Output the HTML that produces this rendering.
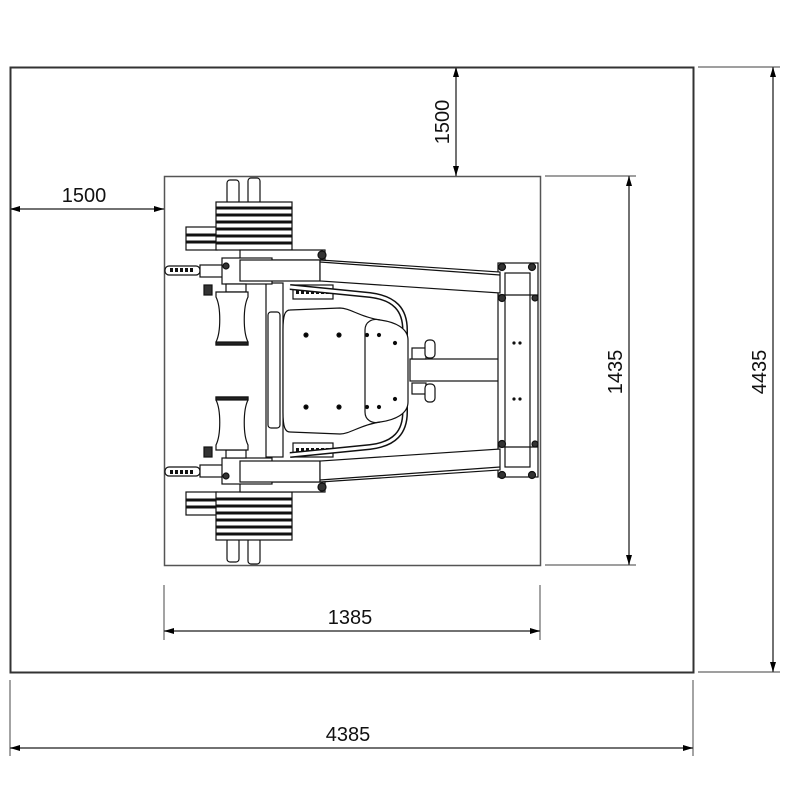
<!DOCTYPE html>
<html><head><style>
html,body{margin:0;padding:0;background:#fff;width:800px;height:798px;overflow:hidden}
svg{display:block}
text{font-family:"Liberation Sans Narrow","Liberation Sans",sans-serif;font-size:20px;fill:#111}
</style></head><body>
<svg width="800" height="798" viewBox="0 0 800 798" xmlns="http://www.w3.org/2000/svg">
<defs>
<marker id="a" viewBox="0 0 10 6" refX="10" refY="3" markerWidth="10" markerHeight="6" markerUnits="userSpaceOnUse" orient="auto-start-reverse"><path d="M0,0 L10,3 L0,6 z" fill="#000"/></marker>
</defs>
<g fill="none" stroke="#333">
<rect x="10.5" y="67.5" width="683" height="605" stroke-width="2"/>
<rect x="164.5" y="176.5" width="376" height="389" stroke="#555" stroke-width="1.5"/>
</g>
<g stroke="#666" stroke-width="1.2">
<line x1="164" y1="585" x2="164" y2="640"/><line x1="540" y1="585" x2="540" y2="640"/>
<line x1="10" y1="680" x2="10" y2="756"/><line x1="693" y1="680" x2="693" y2="756"/>
<line x1="545" y1="176" x2="636" y2="176"/><line x1="545" y1="565" x2="636" y2="565"/>
<line x1="698" y1="67" x2="780" y2="67"/><line x1="698" y1="672" x2="780" y2="672"/>
</g>
<g stroke="#444" stroke-width="1.5" marker-start="url(#a)" marker-end="url(#a)">
<line x1="164" y1="631" x2="540" y2="631"/>
<line x1="10" y1="748" x2="693" y2="748"/>
<line x1="629" y1="176" x2="629" y2="565"/>
<line x1="773" y1="67" x2="773" y2="672"/>
<line x1="10" y1="209" x2="164" y2="209"/>
<line x1="456" y1="67" x2="456" y2="176"/>
</g>
<text x="350" y="624" text-anchor="middle">1385</text>
<text x="348" y="741" text-anchor="middle">4385</text>
<text x="84" y="202" text-anchor="middle">1500</text>
<text transform="translate(449,122) rotate(-90)" text-anchor="middle">1500</text>
<text transform="translate(622,372) rotate(-90)" text-anchor="middle">1435</text>
<text transform="translate(766,372) rotate(-90)" text-anchor="middle">4435</text>

<g fill="#fff" stroke="#111" stroke-width="1.2">
<rect x="410" y="359" width="90" height="22"/>
<rect x="498" y="263" width="40" height="214"/>
<rect x="505" y="273" width="25" height="194"/>
<rect x="266" y="283" width="17" height="174"/>
<rect x="268" y="312" width="12" height="116" rx="3"/>
</g>
<g id="half" fill="#fff" stroke="#111" stroke-width="1.2">
<rect x="227" y="180" width="12" height="24" rx="3"/><rect x="248" y="178" width="12" height="26" rx="3"/>
<rect x="186" y="227" width="31" height="23"/>
<line x1="186" y1="235" x2="217" y2="235" stroke-width="3"/><line x1="186" y1="242" x2="217" y2="242" stroke-width="3"/>
<rect x="216" y="202" width="76" height="48"/>
<g stroke-width="3"><line x1="216" y1="208" x2="292" y2="208"/><line x1="216" y1="215" x2="292" y2="215"/><line x1="216" y1="222" x2="292" y2="222"/><line x1="216" y1="229" x2="292" y2="229"/><line x1="216" y1="236" x2="292" y2="236"/><line x1="216" y1="243" x2="292" y2="243"/></g>
<rect x="240" y="250" width="85" height="10"/>
<rect x="165" y="266" width="35" height="9" rx="4"/>
<line x1="170" y1="270" x2="195" y2="270" stroke-width="4" stroke-dasharray="3,2"/>
<rect x="200" y="265" width="30" height="12"/>
<rect x="222" y="258" width="50" height="26"/>
<rect x="240" y="260" width="80" height="21"/>
<path d="M320,260 L500,272 L500,293 L320,281 Z"/>
<line x1="320" y1="262" x2="500" y2="275"/>
<circle cx="322" cy="255" r="4" fill="#333"/><circle cx="226" cy="266" r="3" fill="#333"/>
<rect x="204" y="285" width="8" height="10" fill="#333"/>
<rect x="226" y="284" width="20" height="8"/>
<path d="M216,292 h32 v5 c-5,10 -5,35 0,45 v3 h-32 v-3 c5,-10 5,-35 0,-45 z"/>
<rect x="216" y="342" width="32" height="3" fill="#222"/>
<rect x="293" y="285" width="40" height="14"/>
<line x1="296" y1="292" x2="330" y2="292" stroke-width="4" stroke-dasharray="3,2"/>
<path d="M290,287 L370,295 C395,298 405,310 405,330 L405,371" fill="none" stroke-width="6"/>
<path d="M290,287 L370,295 C395,298 405,310 405,330 L405,371" fill="none" stroke="#fff" stroke-width="3"/>
<path d="M283,371 L283,330 C283,315 285,310 290,310 L340,308 C350,308 360,317 380,320 C395,322 408,328 408,340 L408,371" stroke="none"/>
<path d="M283,371 L283,330 C283,315 285,310 290,310 L340,308 C350,308 360,317 380,320 C395,322 408,328 408,340 L408,371" fill="none"/>
<path d="M365,371 L365,330 C365,322 372,318 380,320" fill="none"/>
<circle cx="306" cy="335" r="2" fill="#000"/><circle cx="339" cy="335" r="2" fill="#000"/>
<circle cx="367" cy="335" r="1.5" fill="#000"/><circle cx="379" cy="335" r="1.5" fill="#000"/><circle cx="395" cy="343" r="1.5" fill="#000"/>
<rect x="412" y="348" width="14" height="11"/>
<rect x="425" y="340" width="10" height="18" rx="4"/>
<line x1="498" y1="295" x2="538" y2="295"/>
<circle cx="502" cy="267" r="3.5" fill="#333"/><circle cx="532" cy="267" r="3.5" fill="#333"/><circle cx="502" cy="298" r="3.5" fill="#333"/><circle cx="535" cy="298" r="3" fill="#333"/>
<circle cx="514" cy="343" r="1" fill="#000"/><circle cx="520" cy="343" r="1" fill="#000"/>
</g>
<use href="#half" transform="translate(0,742) scale(1,-1)"/>
</svg>
</body></html>
